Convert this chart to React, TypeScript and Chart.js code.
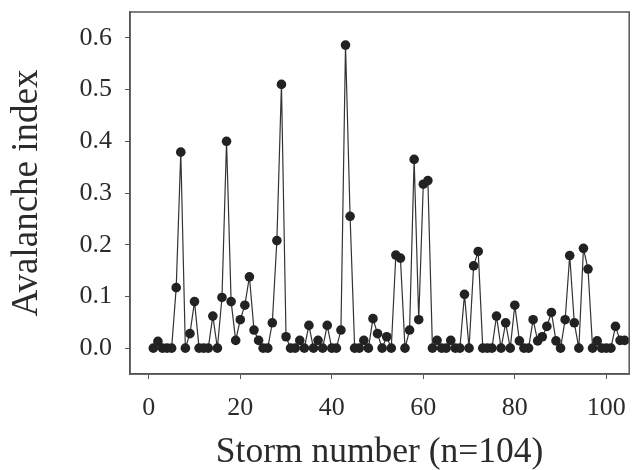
import React, { useEffect, useRef } from "react";
import { Chart, registerables } from "chart.js";

Chart.register(...registerables);

const avalancheIndex: number[] = [
  0, 0.013, 0, 0, 0, 0.117, 0.379, 0, 0.028, 0.09,
  0, 0, 0, 0.062, 0, 0.098, 0.4, 0.09, 0.015, 0.055,
  0.083, 0.138, 0.035, 0.015, 0, 0, 0.049, 0.208, 0.51, 0.022,
  0, 0, 0.015, 0, 0.044, 0, 0.015, 0, 0.044, 0,
  0, 0.035, 0.586, 0.255, 0, 0, 0.015, 0, 0.057, 0.028,
  0, 0.022, 0, 0.18, 0.174, 0, 0.035, 0.365, 0.055, 0.317,
  0.324, 0, 0.015, 0, 0, 0.015, 0, 0, 0.104, 0,
  0.159, 0.187, 0, 0, 0, 0.062, 0, 0.049, 0, 0.083,
  0.014, 0, 0, 0.055, 0.014, 0.022, 0.042, 0.069, 0.014, 0,
  0.055, 0.179, 0.049, 0, 0.193, 0.153, 0, 0.014, 0, 0,
  0, 0.042, 0.015, 0.015,
];
const stormNumbers: number[] = avalancheIndex.map((_, i) => i + 1);
const xTickValues: number[] = [0, 20, 40, 60, 80, 100];
const yTickValues: number[] = [0, 0.1, 0.2, 0.3, 0.4, 0.5, 0.6];
const xTitle = "Storm number (n=104)";
const yTitle = "Avalanche index";

const FONT = "'Liberation Serif', 'Times New Roman', serif";
const AXIS_COLOR = "#555";
const TEXT_COLOR = "#2b2b2b";

const boxPlugin = {
  id: "boxPlugin",
  afterDraw(chart: any) {
    const { ctx, chartArea } = chart;
    ctx.save();
    ctx.strokeStyle = AXIS_COLOR;
    ctx.lineWidth = 1.5;
    ctx.strokeRect(chartArea.left, chartArea.top, chartArea.right - chartArea.left, chartArea.bottom - chartArea.top);
    ctx.restore();
  },
};

export default function App() {
  const ref = useRef<HTMLCanvasElement | null>(null);
  useEffect(() => {
    document.body.style.margin = "0";
    const canvas = ref.current!;
    const chart = new Chart(canvas, {
      type: "line",
      data: {
        datasets: [
          {
            data: stormNumbers.map((x, i) => ({ x, y: avalancheIndex[i] })),
            borderColor: "#333",
            borderWidth: 1.2,
            pointRadius: 4.8,
            pointBackgroundColor: "#222",
            pointBorderColor: "#222",
            pointBorderWidth: 0,
            tension: 0,
          },
        ],
      },
      options: {
        animation: false,
        responsive: false,
        maintainAspectRatio: false,
        layout: { padding: { left: 5, right: 2, top: 12, bottom: 0 } },
        plugins: { legend: { display: false }, tooltip: { enabled: false } },
        scales: {
          x: {
            type: "linear",
            min: -4.1,
            max: 105,
            afterBuildTicks: (s: any) => {
              s.ticks = xTickValues.map((v) => ({ value: v }));
            },
            afterFit: (s: any) => {
              s.height = 96;
              s.paddingLeft = 0;
              s.paddingRight = 0;
            },
            ticks: {
              font: { family: FONT, size: 26 },
              color: TEXT_COLOR,
              padding: 14,
              maxRotation: 0,
              callback: (v: any) => String(v),
            },
            grid: {
              display: true,
              drawOnChartArea: false,
              drawTicks: true,
              tickLength: 5,
              tickColor: AXIS_COLOR,
            },
            border: { display: true, color: AXIS_COLOR, width: 1.5 },
            title: {
              display: true,
              text: xTitle,
              font: { family: FONT, size: 35.5 },
              color: TEXT_COLOR,
              padding: { top: -4, bottom: -4 },
            },
          },
          y: {
            type: "linear",
            min: -0.05,
            max: 0.65,
            afterBuildTicks: (s: any) => {
              s.ticks = yTickValues.map((v) => ({ value: v }));
            },
            afterFit: (s: any) => {
              s.width = 125;
              s.paddingTop = 0;
              s.paddingBottom = 0;
            },
            ticks: {
              font: { family: FONT, size: 26 },
              color: TEXT_COLOR,
              padding: 13,
              callback: (v: any) => Number(v).toFixed(1),
            },
            grid: {
              display: true,
              drawOnChartArea: false,
              drawTicks: true,
              tickLength: 5,
              tickColor: AXIS_COLOR,
            },
            border: { display: true, color: AXIS_COLOR, width: 1.5 },
            title: {
              display: true,
              text: yTitle,
              font: { family: FONT, size: 37 },
              color: TEXT_COLOR,
              padding: { top: 0, bottom: 0 },
            },
          },
        },
      },
      plugins: [boxPlugin],
    });
    return () => chart.destroy();
  }, []);
  return (
    <div style={{ width: 634, height: 470 }}>
      <canvas ref={ref} width={634} height={470} style={{ display: "block" }} />
    </div>
  );
}
